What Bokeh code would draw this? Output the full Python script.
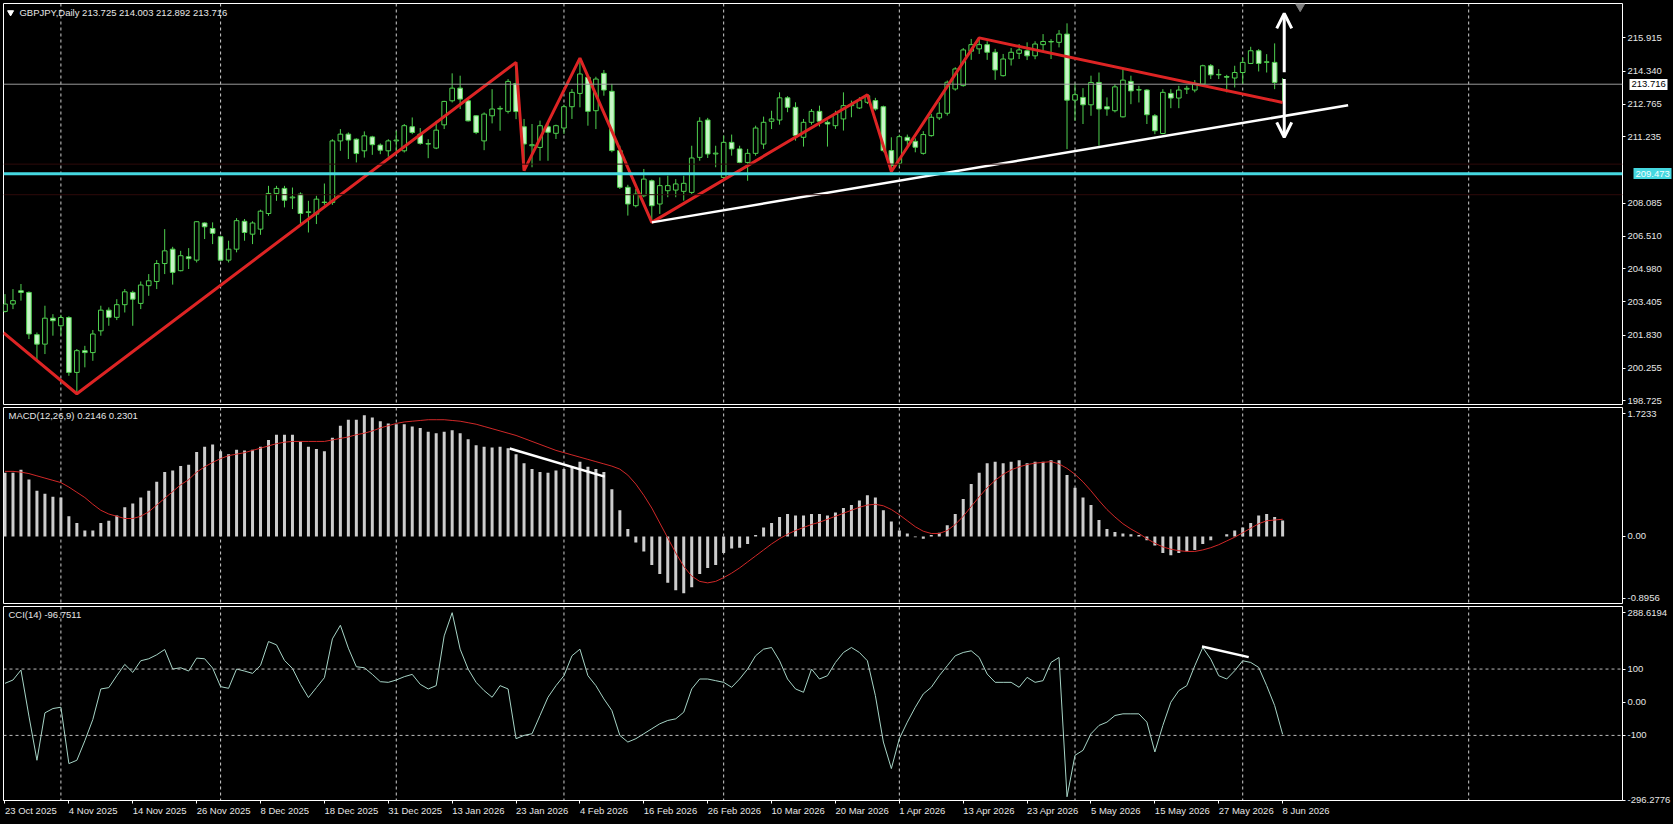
from bokeh.plotting import figure
from bokeh.layouts import column
from bokeh.models import FixedTicker, Label, Span, Arrow, OpenHead, Range1d, LinearAxis
from bokeh.embed import file_html
from bokeh.resources import INLINE

# ---------------- data ----------------
symbol_title = "GBPJPY,Daily  213.725 214.003 212.892 213.716"
macd_title = "MACD(12,26,9) 0.2146 0.2301"
cci_title = "CCI(14) -96.7511"

date_labels = ["23 Oct 2025", "4 Nov 2025", "14 Nov 2025", "26 Nov 2025", "8 Dec 2025",
               "18 Dec 2025", "31 Dec 2025", "13 Jan 2026", "23 Jan 2026", "4 Feb 2026",
               "16 Feb 2026", "26 Feb 2026", "10 Mar 2026", "20 Mar 2026", "1 Apr 2026",
               "13 Apr 2026", "23 Apr 2026", "5 May 2026", "15 May 2026", "27 May 2026",
               "8 Jun 2026"]
date_label_bars = [0, 8, 16, 24, 32, 40, 48, 56, 64, 72, 80, 88, 96, 104, 112, 120,
                   128, 136, 144, 152, 160]
month_start_bars = [7, 27, 49, 70, 90, 112, 134, 155, 183.3]

open_ = [202.95, 203.30, 203.93, 203.85, 201.85, 201.40, 202.63, 202.27, 202.66, 200.06,
         201.09, 201.00, 202.03, 203.01, 202.67, 203.27, 203.85, 203.33, 204.17, 204.37,
         205.22, 205.90, 204.88, 205.54, 205.38, 207.14, 206.88, 206.49, 205.38, 205.90,
         207.22, 206.61, 206.85, 207.59, 208.54, 208.78, 208.33, 208.51, 207.64, 207.56,
         208.11, 208.11, 211.03, 211.35, 211.11, 210.56, 211.22, 210.83, 210.56, 211.03,
         210.56, 211.70, 211.35, 210.90, 210.69, 211.79, 212.93, 213.53, 212.93, 212.22,
         211.03, 212.22, 212.54, 212.43, 213.75, 211.70, 210.80, 210.72, 211.70, 211.39,
         211.64, 212.65, 213.28, 214.04, 212.46, 214.23, 213.38, 210.57, 208.83, 207.96,
         208.43, 209.14, 208.04, 208.67, 208.70, 208.64, 208.59, 210.25, 212.02, 210.41,
         209.30, 210.96, 210.65, 210.01, 210.44, 210.88, 211.96, 212.02, 213.07, 212.62,
         211.20, 211.91, 212.43, 211.91, 211.75, 212.07, 212.70, 212.59, 212.86, 212.94,
         212.65, 210.57, 209.97, 211.20, 211.01, 210.44, 211.28, 212.12, 212.34, 213.49,
         213.65, 215.28, 215.39, 215.59, 215.23, 214.12, 214.91, 215.18, 215.30, 215.06,
         215.59, 215.74, 215.70, 216.09, 212.96, 213.09, 212.74, 213.80, 212.65, 212.46,
         212.17, 213.85, 213.44, 213.44, 212.22, 211.38, 213.28, 213.06, 213.48, 213.44,
         213.72, 214.59, 214.16, 214.08, 214.01, 214.27, 214.70, 215.30, 214.75, 214.75,
         213.725]
high = [203.77, 204.01, 204.25, 203.90, 201.95, 203.22, 202.82, 202.79, 202.72, 201.17,
        201.32, 202.07, 203.22, 203.14, 203.53, 204.01, 203.93, 204.37, 204.72, 205.38,
        206.85, 206.01, 205.82, 205.95, 207.22, 207.17, 207.17, 206.54, 206.30, 207.37,
        207.33, 207.22, 207.77, 208.90, 208.90, 208.90, 208.82, 208.59, 208.19, 208.43,
        209.01, 211.11, 211.59, 211.43, 211.15, 211.48, 211.27, 210.91, 211.11, 211.51,
        211.83, 212.14, 211.64, 211.11, 211.98, 212.93, 214.23, 214.12, 213.09, 212.25,
        212.38, 213.48, 212.69, 213.96, 214.75, 212.07, 211.83, 211.99, 211.91, 211.80,
        212.75, 213.49, 214.95, 214.12, 214.07, 214.39, 213.73, 210.80, 208.95, 208.75,
        209.70, 209.20, 209.30, 209.38, 209.22, 209.38, 210.80, 212.15, 212.12, 210.80,
        211.28, 211.33, 210.80, 210.65, 211.75, 212.18, 212.46, 213.33, 213.15, 212.86,
        212.07, 212.54, 212.70, 212.00, 212.46, 213.33, 212.94, 213.10, 213.22, 213.07,
        212.70, 211.20, 211.33, 211.33, 211.15, 211.49, 212.31, 212.86, 213.89, 214.52,
        215.43, 215.86, 215.91, 215.75, 215.39, 215.15, 215.43, 215.62, 215.70, 215.75,
        216.09, 215.85, 216.28, 216.60, 213.75, 213.53, 214.12, 214.27, 213.09, 213.72,
        214.43, 214.12, 213.64, 213.48, 212.30, 213.48, 213.48, 213.64, 213.64, 213.91,
        214.64, 214.67, 214.43, 214.16, 214.59, 214.99, 215.49, 215.38, 215.14, 215.65,
        214.003]
low = [202.90, 203.06, 203.46, 201.64, 200.61, 200.93, 201.80, 201.80, 199.90, 199.05,
       200.30, 200.61, 201.80, 202.27, 202.54, 202.90, 202.27, 203.06, 203.69, 204.01,
       204.72, 204.22, 204.85, 204.96, 205.27, 206.38, 206.14, 205.35, 205.27, 205.75,
       206.30, 206.14, 206.58, 207.48, 208.19, 207.88, 207.80, 207.09, 206.69, 207.09,
       208.00, 208.00, 210.56, 210.17, 210.01, 210.24, 210.37, 210.40, 210.28, 210.48,
       210.48, 211.35, 210.85, 210.21, 210.64, 211.59, 212.85, 212.54, 211.95, 211.35,
       210.59, 211.86, 211.51, 212.33, 212.06, 209.62, 209.78, 210.09, 210.09, 211.12,
       211.36, 212.07, 212.62, 211.75, 211.59, 213.17, 210.49, 208.75, 207.49, 207.88,
       208.36, 207.17, 207.57, 208.36, 208.36, 208.20, 208.51, 210.09, 210.22, 209.78,
       209.27, 210.33, 209.97, 209.14, 210.33, 210.65, 211.59, 211.80, 212.39, 211.04,
       210.76, 211.80, 211.71, 210.76, 211.60, 211.52, 212.15, 212.54, 212.78, 212.46,
       210.49, 209.58, 209.81, 210.73, 210.49, 210.38, 211.23, 212.02, 212.23, 213.41,
       213.60, 214.87, 215.15, 214.87, 213.92, 214.08, 214.60, 214.91, 214.86, 214.90,
       215.30, 214.91, 215.46, 210.64, 211.98, 211.83, 212.22, 210.80, 212.22, 212.38,
       212.14, 212.77, 212.85, 211.83, 211.35, 211.35, 212.58, 212.58, 213.25, 213.33,
       213.64, 213.96, 213.96, 213.33, 213.56, 213.72, 214.67, 214.32, 214.27, 213.48,
       212.892]
close = [203.30, 203.46, 203.85, 201.88, 201.40, 202.63, 202.51, 202.66, 200.06, 201.09,
         201.00, 201.88, 203.01, 202.67, 203.27, 203.88, 203.53, 204.20, 204.40, 205.22,
         205.82, 204.80, 205.59, 205.45, 207.20, 206.96, 206.65, 205.38, 205.90, 207.25,
         206.69, 207.14, 207.70, 208.54, 208.78, 208.22, 208.37, 207.59, 207.67, 208.27,
         208.13, 211.03, 211.35, 211.07, 210.43, 211.27, 210.85, 210.59, 211.03, 211.07,
         211.75, 211.43, 210.91, 210.88, 211.54, 212.90, 213.53, 213.01, 211.98, 211.43,
         212.30, 212.54, 212.57, 213.85, 212.42, 210.88, 210.85, 211.75, 211.44, 211.75,
         212.65, 213.33, 214.20, 212.43, 213.96, 213.44, 210.57, 208.83, 208.04, 208.51,
         209.22, 207.96, 208.91, 208.91, 208.99, 209.02, 210.22, 211.96, 210.41, 210.45,
         210.96, 210.65, 210.01, 210.44, 211.64, 211.91, 212.07, 213.07, 212.62, 211.28,
         211.91, 212.43, 211.96, 211.83, 212.30, 212.70, 212.75, 212.94, 213.17, 212.54,
         210.57, 209.86, 211.23, 211.04, 210.73, 211.33, 212.15, 212.34, 213.81, 214.44,
         215.34, 215.59, 215.59, 215.23, 214.39, 214.91, 215.23, 215.34, 215.06, 215.62,
         215.74, 215.72, 216.09, 212.96, 213.22, 212.74, 213.80, 212.54, 212.54, 213.59,
         213.91, 213.40, 213.46, 212.27, 211.51, 213.33, 213.06, 213.44, 213.52, 213.75,
         214.59, 214.16, 214.18, 214.05, 214.27, 214.75, 215.30, 214.70, 214.78, 213.80,
         213.716]

macd_hist = [0.85, 0.85, 0.89, 0.76, 0.61, 0.57, 0.53, 0.52, 0.27, 0.18,
             0.08, 0.08, 0.18, 0.21, 0.28, 0.39, 0.44, 0.52, 0.61, 0.73,
             0.86, 0.88, 0.94, 0.96, 1.13, 1.20, 1.23, 1.14, 1.10, 1.16,
             1.15, 1.16, 1.20, 1.29, 1.36, 1.36, 1.36, 1.27, 1.20, 1.17,
             1.14, 1.32, 1.48, 1.56, 1.56, 1.62, 1.59, 1.54, 1.51, 1.50,
             1.50, 1.47, 1.45, 1.40, 1.38, 1.40, 1.42, 1.38, 1.30, 1.22,
             1.20, 1.19, 1.20, 1.18, 1.10, 0.98, 0.90, 0.86, 0.85, 0.88,
             0.90, 0.92, 1.00, 0.93, 0.90, 0.86, 0.63, 0.35, 0.10, -0.08,
             -0.20, -0.38, -0.50, -0.62, -0.72, -0.76, -0.68, -0.50, -0.42, -0.38,
             -0.22, -0.16, -0.15, -0.10, 0.02, 0.12, 0.18, 0.26, 0.30, 0.28,
             0.28, 0.30, 0.30, 0.28, 0.32, 0.38, 0.42, 0.48, 0.55, 0.52,
             0.35, 0.20, 0.08, 0.04, -0.01, -0.03, 0.02, 0.05, 0.15, 0.30,
             0.50, 0.70, 0.85, 0.98, 1.00, 0.98, 1.00, 1.02, 0.98, 1.00,
             1.00, 1.02, 1.02, 0.82, 0.65, 0.52, 0.42, 0.22, 0.10, 0.06,
             0.04, 0.03, 0.02, -0.05, -0.12, -0.22, -0.25, -0.22, -0.20, -0.18,
             -0.10, -0.05, 0.00, 0.03, 0.08, 0.12, 0.18, 0.28, 0.30, 0.26,
             0.2146]
macd_signal = [0.87, 0.87, 0.86, 0.84, 0.81, 0.78, 0.75, 0.72, 0.66, 0.59,
               0.52, 0.43, 0.35, 0.30, 0.27, 0.24, 0.24, 0.27, 0.33, 0.42,
               0.51, 0.60, 0.69, 0.76, 0.86, 0.93, 0.99, 1.04, 1.08, 1.10,
               1.12, 1.15, 1.18, 1.21, 1.24, 1.26, 1.27, 1.27, 1.27, 1.27,
               1.27, 1.29, 1.31, 1.33, 1.36, 1.38, 1.41, 1.45, 1.48, 1.51,
               1.53, 1.54, 1.55, 1.56, 1.56, 1.56, 1.55, 1.54, 1.52, 1.50,
               1.47, 1.44, 1.41, 1.38, 1.35, 1.31, 1.27, 1.23, 1.19, 1.15,
               1.12, 1.09, 1.06, 1.03, 1.00, 0.97, 0.94, 0.90, 0.82, 0.70,
               0.55, 0.38, 0.18, -0.02, -0.22, -0.40, -0.53, -0.60, -0.62, -0.60,
               -0.55, -0.49, -0.42, -0.34, -0.26, -0.18, -0.10, -0.03, 0.03, 0.08,
               0.12, 0.16, 0.19, 0.23, 0.27, 0.31, 0.35, 0.39, 0.42, 0.43,
               0.41, 0.36, 0.29, 0.21, 0.13, 0.07, 0.04, 0.04, 0.08, 0.16,
               0.27, 0.40, 0.53, 0.65, 0.75, 0.83, 0.89, 0.93, 0.96, 0.98,
               0.99, 1.00, 0.97, 0.91, 0.83, 0.73, 0.61, 0.48, 0.36, 0.26,
               0.17, 0.10, 0.04, -0.03, -0.09, -0.14, -0.17, -0.19, -0.20, -0.20,
               -0.18, -0.15, -0.11, -0.06, -0.01, 0.05, 0.11, 0.17, 0.21, 0.22,
               0.2301]
cci = [57, 67, 97, -42, -175, -32, -19, -15, -185, -175,
       -116, -52, 40, 44, 80, 114, 90, 125, 131, 143,
       159, 100, 104, 94, 133, 131, 103, 47, 42, 100,
       94, 87, 111, 183, 173, 126, 102, 54, 14, 44,
       74, 191, 232, 163, 107, 104, 84, 62, 60, 67,
       77, 84, 54, 40, 50, 200, 270, 160, 100, 60,
       35, 15, 50, 40, -110, -100, -95, -40, 15, 50,
       80, 140, 160, 80, 50, 10, -25, -100, -120, -110,
       -95, -80, -65, -55, -50, -30, 40, 70, 70, 65,
       60, 45, 70, 100, 140, 160, 165, 125, 70, 40,
       30, 100, 70, 80, 120, 150, 165, 150, 125, 20,
       -120, -200, -110, -60, -15, 25, 45, 80, 110, 140,
       150, 155, 135, 85, 60, 60, 60, 45, 75, 60,
       65, 120, 135, -285, -160, -145, -95, -70, -60, -40,
       -35, -35, -35, -60, -150, -70, 0, 35, 50, 110,
       165, 130, 80, 70, 95, 125, 120, 105, 50, -10,
       -96.75]

# drawn objects (bar index, value)
zigzag_bar = [-0.2, 9, 64, 65, 72, 81, 108, 111, 122, 160]
zigzag_price = [201.94, 199.05, 214.75, 209.62, 214.95, 207.17, 213.22, 209.58, 215.91, 212.85]
support_bar = [81, 168.2]
support_price = [207.17, 212.72]
cyan_level = 209.473
red_levels = [209.93, 208.48]
last_price = 213.716
arrow_bar = 160.2
arrow_up = (214.28, 217.07)
arrow_down = (213.96, 211.20)
macd_div_bar = [63.2, 75.1]
macd_div_val = [1.175, 0.80]
cci_div_bar = [149.9, 155.75]
cci_div_val = [168, 136]

price_ticks = [215.915, 214.340, 212.765, 211.235, 208.085, 206.510, 204.980, 203.405,
               201.830, 200.255, 198.725]

# ---------------- style ----------------
FONT = "Liberation Sans"
FS = "9.5px"
FG = "#e6e6e6"
WICK = "#4fd04f"
BEAR_FILL = "#c8f5c8"
GRID = "#cfcfcf"
CYAN = "#45d8e0"
W = 1673
RB = 48
FRAME_W = W - 3 - RB

xr = Range1d(-0.1875, -0.1875 + FRAME_W / 8)


def style_axis(ax):
    ax.axis_line_color = None
    ax.major_tick_line_color = "white"
    ax.major_tick_in = 0
    ax.major_tick_out = 3
    ax.minor_tick_line_color = None
    ax.major_label_text_color = FG
    ax.major_label_text_font = FONT
    ax.major_label_text_font_size = FS
    ax.major_label_standoff = 2


def make_fig(height, yr, top, bottom, xaxis=False):
    p = figure(width=W, height=height, x_range=xr, y_range=yr,
               min_border_left=3, min_border_right=RB, min_border_top=top,
               min_border_bottom=bottom,
               x_axis_location="below" if xaxis else None, y_axis_location="right",
               toolbar_location=None, output_backend="svg",
               background_fill_color="black", border_fill_color="black",
               outline_line_color="white", outline_line_width=1)
    p.grid.visible = False
    style_axis(p.yaxis[0])
    for b in month_start_bars:
        p.add_layout(Span(location=b, dimension="height", line_color=GRID,
                          line_dash="3 3", line_width=1, level="underlay"))
    return p


def price_box_axis(p, val, text, fill, color, inner=35):
    # an extra right axis whose single thick tick forms the coloured price box
    ax = LinearAxis(ticker=FixedTicker(ticks=[val]), major_label_overrides={val: text})
    style_axis(ax)
    ax.major_tick_line_color = fill
    ax.major_tick_line_width = 11
    ax.major_tick_in = inner
    ax.major_tick_out = 3
    ax.major_label_standoff = -36
    ax.major_label_text_color = color
    p.add_layout(ax, "right")


# ---------------- main price panel ----------------
p1 = make_fig(405, Range1d(198.54, 217.54), 3, 1)
p1.yaxis[0].ticker = FixedTicker(ticks=price_ticks)
p1.yaxis[0].major_label_overrides = {t: "%.3f" % t for t in price_ticks}

idx = list(range(len(close)))
p1.segment(x0=idx, y0=low, x1=idx, y1=high, line_color=WICK, line_width=1)
bull = [i for i in idx if close[i] >= open_[i]]
bear = [i for i in idx if close[i] < open_[i]]
p1.vbar(x=bull, width=0.58, top=[close[i] for i in bull], bottom=[open_[i] for i in bull],
        fill_color="black", line_color=WICK, line_width=1)
p1.vbar(x=bear, width=0.58, top=[open_[i] for i in bear], bottom=[close[i] for i in bear],
        fill_color=BEAR_FILL, line_color=WICK, line_width=1)

for lv in red_levels:
    p1.add_layout(Span(location=lv, dimension="width", line_color="#2e0a0a", line_width=1))
p1.line(x=zigzag_bar, y=zigzag_price, line_color="#dd2424", line_width=3)
p1.add_layout(Span(location=cyan_level, dimension="width", line_color=CYAN, line_width=3))
p1.line(x=support_bar, y=support_price, line_color="white", line_width=2.5)
p1.add_layout(Span(location=last_price, dimension="width", line_color="#9a9a9a", line_width=1))

for (y0, y1) in (arrow_up, arrow_down):
    p1.add_layout(Arrow(end=OpenHead(size=15, line_color="white", line_width=3),
                        x_start=arrow_bar, y_start=y0, x_end=arrow_bar, y_end=y1,
                        line_color="white", line_width=3))

p1.scatter(x=[162.2], y=[217.4], marker="inverted_triangle", size=9, color="#7f7f7f")
p1.scatter(x=[0.7], y=[217.115], marker="inverted_triangle", size=6, color="white")
p1.add_layout(Label(x=1.81, y=217.115, text=symbol_title, text_color=FG, text_font=FONT,
                    text_font_size=FS, text_baseline="middle"))

price_box_axis(p1, last_price, "%.3f" % last_price, "white", "black")
price_box_axis(p1, cyan_level, "%.3f" % cyan_level, CYAN, "#f4ffff")

# ---------------- MACD panel ----------------
p2 = make_fig(199, Range1d(-0.8956, 1.7233), 2, 1)
macd_ticks = {1.643: "1.7233", 0.0: "0.00", -0.8248: "-0.8956"}
p2.yaxis[0].ticker = FixedTicker(ticks=list(macd_ticks.keys()))
p2.yaxis[0].major_label_overrides = macd_ticks
p2.vbar(x=list(range(len(macd_hist))), width=0.375, top=macd_hist, bottom=0,
        fill_color="#cccccc", line_color=None)
p2.line(x=list(range(len(macd_signal))), y=macd_signal, line_color="#d02828", line_width=1)
p2.line(x=macd_div_bar, y=macd_div_val, line_color="white", line_width=2.5)
p2.add_layout(Label(x=0.44, y=1.62, text=macd_title, text_color=FG, text_font=FONT,
                    text_font_size=FS, text_baseline="middle"))

# ---------------- CCI panel ----------------
p3 = make_fig(220, Range1d(-296.2776, 288.6194), 2, 22, xaxis=True)
cci_ticks = {270.0: "288.6194", 100: "100", 0: "0.00", -100: "-100", -296.27: "-296.2776"}
p3.yaxis[0].ticker = FixedTicker(ticks=list(cci_ticks.keys()))
p3.yaxis[0].major_label_overrides = cci_ticks
for lv in (100, -100):
    p3.add_layout(Span(location=lv, dimension="width", line_color="#bdbdbd",
                       line_dash="3 3", line_width=1))
p3.line(x=list(range(len(cci))), y=cci, line_color="#a6d4c6", line_width=1)
p3.line(x=cci_div_bar, y=cci_div_val, line_color="white", line_width=2.5)
p3.add_layout(Label(x=0.44, y=264.1, text=cci_title, text_color=FG, text_font=FONT,
                    text_font_size=FS, text_baseline="middle"))

xa = p3.xaxis[0]
xa.ticker = FixedTicker(ticks=date_label_bars)
xa.major_label_overrides = dict(zip(date_label_bars, date_labels))
xa.major_label_orientation = -0.0001
xa.axis_line_color = "white"
xa.major_tick_line_color = "white"
xa.major_tick_in = 0
xa.major_tick_out = 3
xa.minor_tick_line_color = None
xa.major_label_text_color = FG
xa.major_label_text_font = FONT
xa.major_label_text_font_size = FS
xa.major_label_standoff = 7

layout = column(p1, p2, p3, spacing=0)
layout.styles = {"background-color": "black"}
open("out.html", "w").write(file_html(layout, INLINE, title="GBPJPY Daily"))
